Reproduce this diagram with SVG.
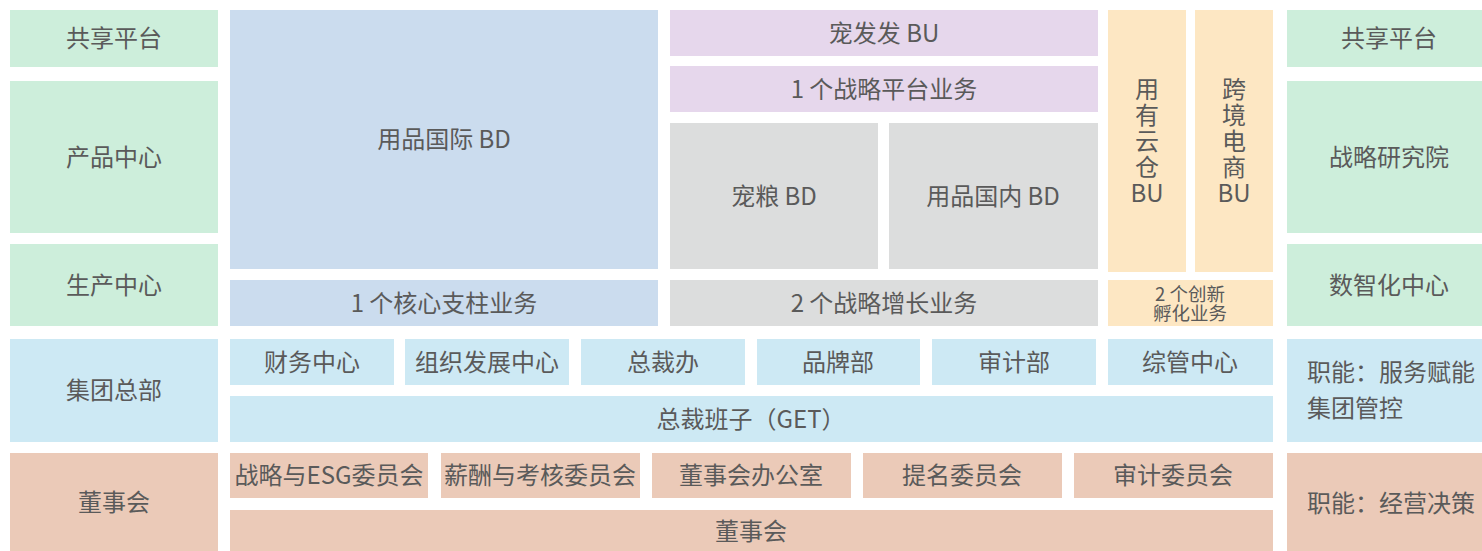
<svg xmlns="http://www.w3.org/2000/svg" width="1482" height="551" viewBox="0 0 1482 551">
<style>
text{font-family:"Noto Sans CJK SC","Noto Sans",sans-serif;font-size:24px;fill:#5a5a5a;text-anchor:middle;dominant-baseline:central}
.s{font-size:18.5px}
.l{text-anchor:start}
.g{fill:#cdeedb}.b{fill:#cbdcee}.p{fill:#e6d7ec}.gr{fill:#dcdddd}.o{fill:#fde7c3}.c{fill:#cde9f4}.r{fill:#ebcab8}
</style>
<rect width="1482" height="551" fill="#fff"/>
<g id="left">
<g id="l1"><rect class="g" x="10" y="10" width="208" height="57"/><text x="114" y="36">共享平台</text></g>
<g id="l2"><rect class="g" x="10" y="81" width="208" height="152"/><text x="114" y="155">产品中心</text></g>
<g id="l3"><rect class="g" x="10" y="244" width="208" height="82"/><text x="114" y="283">生产中心</text></g>
<g id="l4"><rect class="c" x="10" y="339" width="208" height="103"/><text x="114" y="388">集团总部</text></g>
<g id="l5"><rect class="r" x="10" y="453" width="208" height="98"/><text x="114" y="500">董事会</text></g>
</g>
<g id="bd">
<g id="n1"><rect class="b" x="230" y="10" width="428" height="259"/><text x="444" y="137">用品国际 BD</text></g>
<g id="n2"><rect class="b" x="230" y="280" width="428" height="46"/><text x="444" y="301">1 个核心支柱业务</text></g>
<g id="n3"><rect class="p" x="670" y="10" width="428" height="46"/><text x="884" y="31">宠发发 BU</text></g>
<g id="n4"><rect class="p" x="670" y="66" width="428" height="46"/><text x="884" y="87">1 个战略平台业务</text></g>
<g id="n5"><rect class="gr" x="670" y="123" width="208" height="146"/><text x="774" y="194">宠粮 BD</text></g>
<g id="n6"><rect class="gr" x="889" y="123" width="209" height="146"/><text x="993" y="194">用品国内 BD</text></g>
<g id="n7"><rect class="gr" x="670" y="280" width="428" height="46"/><text x="884" y="301">2 个战略增长业务</text></g>
<g id="n8"><rect class="o" x="1108" y="10" width="78" height="262"/><text x="1147" y="87">用<tspan x="1147" dy="26">有</tspan><tspan x="1147" dy="26">云</tspan><tspan x="1147" dy="26">仓</tspan><tspan x="1147" dy="26">BU</tspan></text></g>
<g id="n9"><rect class="o" x="1195" y="10" width="78" height="262"/><text x="1234" y="87">跨<tspan x="1234" dy="26">境</tspan><tspan x="1234" dy="26">电</tspan><tspan x="1234" dy="26">商</tspan><tspan x="1234" dy="26">BU</tspan></text></g>
<g id="n10"><rect class="o" x="1108" y="280" width="165" height="46"/><text class="s" x="1190" y="293">2 个创新<tspan x="1190" dy="19">孵化业务</tspan></text></g>
</g>
<g id="hq">
<g id="h1"><rect class="c" x="230" y="339" width="164" height="46"/><text x="312" y="360">财务中心</text></g>
<g id="h2"><rect class="c" x="405" y="339" width="164" height="46"/><text x="487" y="360">组织发展中心</text></g>
<g id="h3"><rect class="c" x="581" y="339" width="164" height="46"/><text x="663" y="360">总裁办</text></g>
<g id="h4"><rect class="c" x="757" y="339" width="163" height="46"/><text x="838" y="360">品牌部</text></g>
<g id="h5"><rect class="c" x="932" y="339" width="164" height="46"/><text x="1014" y="360">审计部</text></g>
<g id="h6"><rect class="c" x="1108" y="339" width="165" height="46"/><text x="1190" y="360">综管中心</text></g>
<g id="h7"><rect class="c" x="230" y="396" width="1043" height="46"/><text x="751" y="417">总裁班子（GET）</text></g>
</g>
<g id="board">
<g id="d1"><rect class="r" x="230" y="453" width="198" height="45"/><text x="329" y="473">战略与ESG委员会</text></g>
<g id="d2"><rect class="r" x="441" y="453" width="199" height="45"/><text x="540" y="473">薪酬与考核委员会</text></g>
<g id="d3"><rect class="r" x="652" y="453" width="199" height="45"/><text x="751" y="473">董事会办公室</text></g>
<g id="d4"><rect class="r" x="863" y="453" width="199" height="45"/><text x="962" y="473">提名委员会</text></g>
<g id="d5"><rect class="r" x="1074" y="453" width="199" height="45"/><text x="1173" y="473">审计委员会</text></g>
<g id="d6"><rect class="r" x="230" y="510" width="1043" height="41"/><text x="751" y="529">董事会</text></g>
</g>
<g id="right">
<g id="r1"><rect class="g" x="1287" y="10" width="195" height="57"/><text x="1389" y="36">共享平台</text></g>
<g id="r2"><rect class="g" x="1287" y="81" width="195" height="152"/><text x="1389" y="155">战略研究院</text></g>
<g id="r3"><rect class="g" x="1287" y="244" width="195" height="82"/><text x="1389" y="283">数智化中心</text></g>
<g id="r4"><rect class="c" x="1287" y="339" width="195" height="103"/><text class="l" x="1307" y="370">职能：服务赋能<tspan x="1307" dy="36">集团管控</tspan></text></g>
<g id="r5"><rect class="r" x="1287" y="453" width="195" height="98"/><text class="l" x="1307" y="501">职能：经营决策</text></g>
</g>
<g id="connectors"/>
</svg>
